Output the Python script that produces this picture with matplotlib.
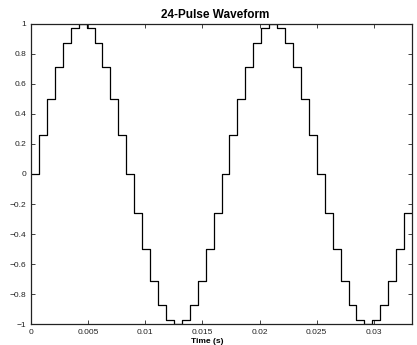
import numpy as np
import matplotlib.pyplot as plt

plt.rcParams['font.family'] = ['Liberation Sans', 'DejaVu Sans']

# one step every 1/1440 s (24 steps per 60 Hz cycle), two cycles shown
step_dt = 1 / 1440
levels = [0, 0.26, 0.5, 0.71, 0.87, 0.97, 1, 0.97, 0.87, 0.71, 0.5, 0.26,
          0, -0.26, -0.5, -0.71, -0.87, -0.97, -1, -0.97, -0.87, -0.71, -0.5, -0.26,
          0, 0.26, 0.5, 0.71, 0.87, 0.97, 1, 0.97, 0.87, 0.71, 0.5, 0.26,
          0, -0.26, -0.5, -0.71, -0.87, -0.97, -1, -0.97, -0.87, -0.71, -0.5, -0.26]
xticks = [0, 0.005, 0.01, 0.015, 0.02, 0.025, 0.03]
xtick_labels = ['0', '0.005', '0.01', '0.015', '0.02', '0.025', '0.03']
yticks = [-1, -0.8, -0.6, -0.4, -0.2, 0, 0.2, 0.4, 0.6, 0.8, 1]
ytick_labels = ['\u22121', '\u22120.8', '\u22120.6', '\u22120.4', '\u22120.2', '0',
                '0.2', '0.4', '0.6', '0.8', '1']

t = np.arange(len(levels) + 1) * step_dt
y = levels + [levels[-1]]

W, H = 417, 345
fig = plt.figure(figsize=(W / 100, H / 100), dpi=100)
left, right, top, bottom = 31, 412, 23.7, 324.3
ax = fig.add_axes([left / W, 1 - bottom / H, (right - left) / W, (bottom - top) / H])

ax.step(t, y, where='post', color='black', linewidth=0.9)

ax.set_xlim(0, 1 / 30)
ax.set_ylim(-1, 1)
ax.set_xticks(xticks)
ax.set_xticklabels(xtick_labels)
ax.set_yticks(yticks)
ax.set_yticklabels(ytick_labels)
ax.tick_params(direction='in', length=3, width=0.6, labelsize=6, pad=3.5,
               top=True, right=True, colors='#222222')
for s in ax.spines.values():
    s.set_linewidth(0.9)
    s.set_color('#222222')

ax.set_title('24-Pulse Waveform', fontsize=8.5, fontweight='bold', x=0.483, pad=4)
ax.set_xlabel('Time (s)', fontsize=6, fontweight='bold', labelpad=1)
ax.xaxis.set_label_coords(0.462, -0.045)
ax.xaxis.label.set_va('top')

fig.savefig('out.png', dpi=100)
